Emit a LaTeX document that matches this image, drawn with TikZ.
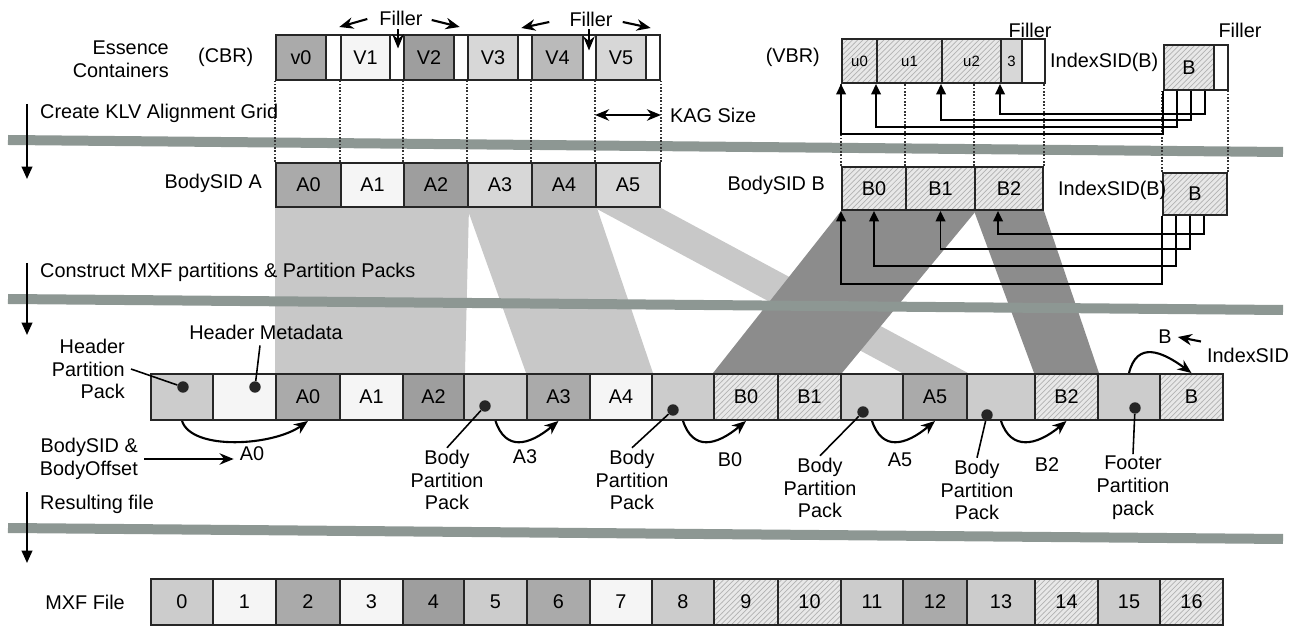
\documentclass[tikz,border=0pt]{standalone}
\usepackage{fontspec}
\setmainfont{Liberation Sans}
\usetikzlibrary{arrows.meta, positioning, calc, patterns}
\pgfdeclarelayer{background}
\pgfsetlayers{background,main}

\definecolor{bandgray}{RGB}{141,151,147}
\definecolor{mapgray}{RGB}{200,200,200}
\definecolor{mapdark}{RGB}{140,140,140}
\definecolor{cellmid}{RGB}{170,170,170}
\definecolor{cellsoft}{RGB}{186,186,186}
\definecolor{celldark}{RGB}{158,158,158}
\definecolor{celllight}{RGB}{215,215,215}
\definecolor{cellpale}{RGB}{204,204,204}
\definecolor{cellwhite}{RGB}{245,245,245}

\tikzset{
  cell/.style={draw=black!85, line width=1.1pt, inner sep=0pt, minimum height=0.9cm},
  cmid/.style={fill=cellmid},
  csoft/.style={fill=cellsoft},
  cdark/.style={fill=celldark},
  clight/.style={fill=celllight},
  cpale/.style={fill=cellpale},
  cwhite/.style={fill=cellwhite},
  cfill/.style={fill=white},
  hatch/.style={preaction={fill=black!9}, pattern=north east lines, pattern color=black!30},
  small/.style={font=\fontsize{8.5}{10}\selectfont},
  dot/.style={circle, fill=black!85, inner sep=0pt, minimum size=6.5pt},
  lbl/.style={align=center, inner sep=1pt},
  grid/.style={densely dotted, line width=0.9pt, black!80},
  band/.style={line width=0.2cm, bandgray},
  steptip/.style={line width=1.1pt, -{Triangle[length=7pt,width=6pt]}},
  idx/.style={line width=1.1pt, -{Triangle[length=6pt,width=5.5pt]}},
  arc/.style={line width=1.2pt, -{Stealth[length=8pt,width=6.5pt]}},
  filtip/.style={line width=1.2pt, -{Stealth[length=8pt,width=6.5pt]}},
  leader/.style={line width=0.9pt},
}

\begin{document}
\begin{tikzpicture}[x=0.02cm, y=-0.02cm,
    every node/.style={font=\fontsize{11.3}{13}\selectfont}]
\useasboundingbox (0,0) rectangle (1291,634);

% Essence containers (CBR)
\foreach \nm/\xa/\xb/\lab/\sty in {v0/276/326/v0/cmid, f1/326/341//cfill, v1/341/390/V1/cwhite,
    f2/390/404//cfill, v2/404/454/V2/cdark, f3/454/468//cfill, v3/468/518/V3/clight,
    f4/518/532//cfill, v4/532/583/V4/csoft, f5/583/596//cfill, v5/596/646/V5/clight, f6/646/660//cfill}
  \node[cell, \sty, minimum width={(\xb-\xa)*0.02cm}] (\nm) at ({(\xa+\xb)/2}, 57.5) {\lab};

% Body SID A
\foreach \nm/\xa/\xb/\lab/\sty in {a0/276/341/A0/cmid, a1/341/404/A1/cwhite, a2/404/468/A2/cdark,
    a3/468/532/A3/clight, a4/532/596/A4/csoft, a5/596/660/A5/clight}
  \node[cell, \sty, minimum width={(\xb-\xa)*0.02cm}, minimum height=0.88cm] (\nm) at ({(\xa+\xb)/2}, 185) {\lab};

% Essence container (VBR) and its index
\foreach \nm/\xa/\xb/\lab/\sty in {u0/842/877/u0/hatch, u1/877/942/u1/hatch, u2/942/1001/u2/hatch,
    u3/1001/1022/3/clight, u4/1022/1045//cfill}
  \node[cell, small, \sty, minimum width={(\xb-\xa)*0.02cm}, minimum height=0.88cm] (\nm) at ({(\xa+\xb)/2}, 61) {\lab};
\node[cell, hatch, minimum width=1cm] (ib) at (1189,67.5) {B};
\node[cell, cfill, minimum width=0.28cm] (ibf) at (1221,67.5) {};

% Body SID B
\foreach \nm/\xa/\xb/\lab in {b0/842/906/B0, b1/906/975/B1, b2/975/1043/B2}
  \node[cell, hatch, minimum width={(\xb-\xa)*0.02cm}, minimum height=0.86cm] (\nm) at ({(\xa+\xb)/2}, 188.5) {\lab};
\node[cell, hatch, minimum width=1.28cm, minimum height=0.84cm] (ib2) at (1195,194) {B};

% Partitions and resulting file
\foreach \i/\xa/\xb/\lab/\sty in {0/151/213//cpale, 1/213/276//cwhite, 2/276/340/A0/cmid,
    3/340/403/A1/cwhite, 4/403/464/A2/cdark, 5/464/527//cpale, 6/527/590/A3/cmid,
    7/590/652/A4/cwhite, 8/652/714//cpale, 9/714/778/B0/hatch, 10/778/841/B1/hatch,
    11/841/903//cpale, 12/903/967/A5/cmid, 13/967/1035//cpale, 14/1035/1098/B2/hatch,
    15/1098/1160//cpale, 16/1160/1223/B/hatch} {
  \node[cell, \sty, minimum width={(\xb-\xa)*0.02cm}, minimum height=0.92cm] (p\i) at ({(\xa+\xb)/2}, 397) {\lab};
  \node[cell, \sty, minimum width={(\xb-\xa)*0.02cm}, minimum height=0.92cm] (m\i) at ({(\xa+\xb)/2}, 602) {\i};
}

% Mapping of the KLV cells and the grey bands
\coordinate (bd1w) at (8,140);  \coordinate (bd1e) at (1283,152);
\coordinate (bd2w) at (8,299);  \coordinate (bd2e) at (1283,310);
\coordinate (bd3w) at (8,528);  \coordinate (bd3e) at (1283,539);
\begin{pgfonlayer}{background}
  \fill[mapgray] (a0.south west) -- (a2.south east) -- (p4.north east) -- (p2.north west) -- cycle;
  \fill[mapgray] (a3.south west) -- (a4.south east) -- (p7.north east) -- (p6.north west) -- cycle;
  \fill[mapgray] (a5.south west) -- (a5.south east) -- (p12.north east) -- (p12.north west) -- cycle;
  \fill[mapdark] (b0.south west) -- (b1.south east) -- (p10.north east) -- (p9.north west) -- cycle;
  \fill[mapdark] (b2.south west) -- (b2.south east) -- (p14.north east) -- (p14.north west) -- cycle;
  \draw[band] (bd1w) -- (bd1e);
  \draw[band] (bd2w) -- (bd2e);
  \draw[band] (bd3w) -- (bd3e);
\end{pgfonlayer}

% KLV alignment grid
\foreach \c in {a0,a1,a2,a3,a4,a5}
  \draw[grid] (\c.north west) -- (\c.north west |- v0.south);
\draw[grid] (a5.north east) -- (a5.north east |- v0.south);
\foreach \c in {b0,b1,b2}
  \draw[grid] (\c.north west) -- (\c.north west |- u0.south);
\draw[grid] (b2.north east) -- (b2.north east |- u0.south);
\draw[grid] (ib2.north west) -- (ib2.north west |- ib.south);
\draw[grid] (ib2.north east) -- (ib2.north east |- ib.south);

% Steps
\node[anchor=west] (st1) at (34,113) {Create KLV Alignment Grid};
\node[anchor=west] (st2) at (34,272) {Construct MXF partitions \& Partition Packs};
\node[anchor=west] (st3) at (34,504) {Resulting file};
\coordinate (s1a) at (27,104); \coordinate (s1b) at (27,179);
\coordinate (s2a) at (27,263); \coordinate (s2b) at (27,335);
\coordinate (s3a) at (27,492); \coordinate (s3b) at (27,563);
\draw[steptip] (s1a) -- (s1b);
\draw[steptip] (s2a) -- (s2b);
\draw[steptip] (s3a) -- (s3b);

% Row labels
\node[anchor=east, align=right] (ess) at (175,59) {Essence\\Containers};
\node[anchor=west] (cbr) at (192,57) {(CBR)};
\node[anchor=east] (vbr) at (826,57) {(VBR)};
\node[anchor=east] (sida) at (268,183) {BodySID A};
\node[anchor=east] (sidb) at (831,185) {BodySID B};
\node[anchor=west] (isb1) at (1044,62) {IndexSID(B)};
\node[anchor=west] (isb2) at (1052,190) {IndexSID(B)};
\node[anchor=east] (mxf) at (131,602) {MXF File};

% Fillers and KAG size
\node (fl1) at (401,18) {Filler};
\node (fl2) at (591,19) {Filler};
\node (fl3) at (1030,30) {Filler};
\node (fl4) at (1240,30) {Filler};
\draw[filtip] (fl1.west) ++(-6,1) -- ++(-28,8);
\draw[filtip] (fl1.east) ++(3,2) -- ++(28,7);
\draw[filtip] (fl1.south) ++(-3,-2) -- ++(0,19);
\draw[filtip] (fl2.west) ++(-14,3) -- ++(-28,6);
\draw[filtip] (fl2.east) ++(4,3) -- ++(28,6);
\draw[filtip] (fl2.south) ++(-2,-3) -- ++(0,21);
\node[anchor=west] (kag) at (664,115) {KAG Size};
\draw[line width=1.2pt, {Stealth[length=8pt,width=6.5pt]}-{Stealth[length=8pt,width=6.5pt]}]
  (a5.north west |- kag.west) -- (a5.north east |- kag.west);

% Index pointers
\foreach \k/\tgt/\dn in {0/u0.south west/43, 14/u1.south west/36, 28/u2.south west/29, 42/u3.south west/23}
  \draw[idx] ($(ib.south west)+(\k,0)$) -- ++(0,\dn) -| (\tgt);
\coordinate (b2p) at ($(b2.south west)+(24,0)$);
\foreach \k/\tgt/\dn in {0/b0.south west/68, 14/b0.south/50, 28/b1.south/33, 42/b2p/18}
  \draw[idx] ($(ib2.south west)+(\k,0)$) -- ++(0,\dn) -| (\tgt);

% Partition packs
\node[dot] (d0) at (183,387) {};
\node[dot] (d1) at (255,387) {};
\node[dot] (d5) at (485,406) {};
\node[dot] (d8) at (673,410) {};
\node[dot] (d11) at (863,412) {};
\node[dot] (d13) at (987,415) {};
\node[dot] (d15) at (1135,408) {};

\node[anchor=east, align=right] (hpp) at (131,369) {Header\\Partition\\Pack};
\node (hmd) at (266,332) {Header Metadata};
\node[lbl] (bpp1) at (447,480) {Body\\Partition\\Pack};
\node[lbl] (bpp2) at (632,480) {Body\\Partition\\Pack};
\node[lbl] (bpp3) at (820,488) {Body\\Partition\\Pack};
\node[lbl] (bpp4) at (977,490) {Body\\Partition\\Pack};
\node[lbl] (fpp) at (1133,488) {Footer\\Partition\\pack};
\draw[leader] (hpp.east) -- (d0);
\draw[leader] ($(hmd.south)+(-6,0)$) -- (d1);
\draw[leader] (bpp1.north) -- (d5);
\draw[leader] (bpp2.north) -- (d8);
\draw[leader] (bpp3.north) -- (d11);
\draw[leader] (bpp4.north) -- (d13);
\draw[leader] (fpp.north) -- (d15);

% Body offsets
\node (oa0) at (252,454) {A0};
\node (oa3) at (525,457) {A3};
\node (ob0) at (730,460) {B0};
\node (oa5) at (900,460) {A5};
\node (ob2) at (1047,465) {B2};
\node (ob) at (1165,337) {B};
\node (isid) at (1248,355) {IndexSID};
\draw[arc] (p0.south) .. controls +(10,30) and +(-35,25) .. (p2.south);
\draw[arc] (p5.south) .. controls +(10,30) and +(-30,25) .. (p6.south);
\draw[arc] (p8.south) .. controls +(10,30) and +(-30,25) .. (p9.south);
\draw[arc] (p11.south) .. controls +(10,30) and +(-30,25) .. (p12.south);
\draw[arc] (p13.south) .. controls +(10,30) and +(-30,25) .. (p14.south);
\draw[arc] (p15.north) .. controls +(8,-32) and +(-30,-22) .. (p16.north);
\draw[filtip] (isid.north west) -- (ob.east);
\node[anchor=east, align=right] (bso) at (144,459) {BodySID \&\\BodyOffset};
\draw[filtip] (bso.east) -- (bso.east -| oa0.west);

\end{tikzpicture}
\end{document}
